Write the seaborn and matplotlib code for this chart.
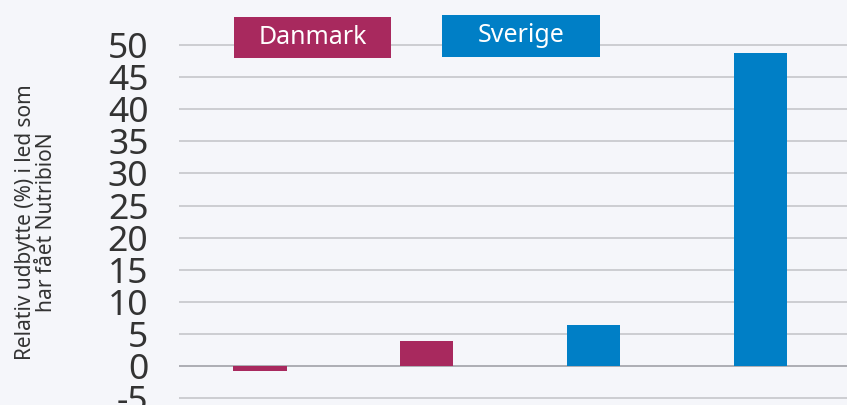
import matplotlib
matplotlib.use("Agg")
import matplotlib.pyplot as plt
import seaborn as sns
import pandas as pd
from matplotlib.patches import Rectangle

# Data
categories = ["Danmark 1", "Danmark 2", "Sverige 1", "Sverige 2"]
countries = ["Danmark", "Danmark", "Sverige", "Sverige"]
values = [-0.8, 4.0, 6.4, 48.8]
yticks = [-5, 0, 5, 10, 15, 20, 25, 30, 35, 40, 45, 50]
ylabel = "Relativ udbytte (%) i led som\nhar fået NutribioN"

colors = {"Danmark": "#A8295E", "Sverige": "#007FC6"}
bg = "#F5F6FA"

sns.set_theme(style="white")
plt.rcParams["font.family"] = ["Noto Sans", "DejaVu Sans"]

df = pd.DataFrame({"kategori": categories, "land": countries, "værdi": values})

fig = plt.figure(figsize=(8.47, 4.05), dpi=100, facecolor=bg)
ax = fig.add_axes([179 / 847, 0, 1 - 179 / 847, 1])
ax.set_facecolor(bg)

sns.barplot(data=df, x="kategori", y="værdi", hue="land", palette=colors,
            order=categories, dodge=False, width=0.32, ax=ax, legend=False,
            saturation=1, edgecolor="none")

ax.set_xlim(-0.485, 3.52)
ax.set_ylim(-6.02, 56.97)
ax.set_yticks(yticks)
ax.set_yticklabels([str(t) for t in yticks], fontsize=25.5, color="#333333")
ax.tick_params(axis="y", length=0, pad=22)
ax.set_xticks([])
ax.set_xlabel("")
ax.set_ylabel("")
for s in ax.spines.values():
    s.set_visible(False)

ax.set_axisbelow(True)
for t in yticks:
    ax.axhline(t, color="#999AA0" if t == 0 else "#C2C3C7", lw=1.1, zorder=0)

fig.text(36 / 847, 1 - 222 / 405, ylabel, rotation=90, ha="center", va="center",
         fontsize=15, color="#333333", linespacing=1.0)

# legend boxes
for name, (x0, x1, y0, y1) in {"Danmark": (234, 391, 17, 57.7),
                               "Sverige": (442, 600, 15, 57)}.items():
    fig.patches.append(Rectangle((x0 / 847, 1 - y1 / 405), (x1 - x0) / 847, (y1 - y0) / 405,
                                 transform=fig.transFigure, facecolor=colors[name],
                                 edgecolor="none", zorder=5))
    fig.text((x0 + x1) / 2 / 847, 1 - (y0 + y1) / 2 / 405, name, ha="center", va="center",
             fontsize=18, color="white", zorder=6)

fig.savefig("out.png", dpi=100, facecolor=bg)
